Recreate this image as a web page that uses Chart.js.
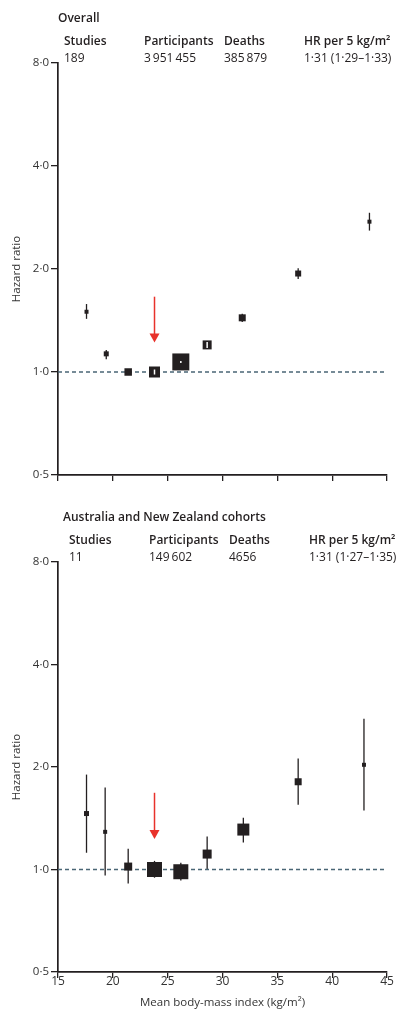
<!DOCTYPE html>
<html>
<head>
<meta charset="utf-8">
<script src="https://cdn.jsdelivr.net/npm/chart.js@4.4.0/dist/chart.umd.min.js"></script>
<style>
    body { margin: 0; background: #fff; font-family: 'Open Sans', sans-serif; color: #231f20; }
    .panel { position: absolute; left: 0; width: 405px; }
    .hdr { position: absolute; font-size: 12px; line-height: 14px; white-space: nowrap; }
    .b { font-weight: 600; }
</style>
</head>
<body>
<div class="panel" style="top:0;height:500px"><canvas id="overallChart"></canvas></div>
<div class="panel" style="top:500px;height:523px"><canvas id="anzChart"></canvas></div>
<div id="headers"></div>

<script>
// ---- data ----
const yTicks = [0.5, 1, 2, 4, 8];
const xTicksStep = 5;
const summaryCols = ['Studies', 'Participants', 'Deaths', 'HR per 5 kg/m²'];

// Overall
const overallBmi = [17.6, 19.4, 21.4, 23.8, 26.2, 28.6, 31.8, 36.9, 43.4];
const overallHr  = [1.50, 1.13, 1.00, 1.00, 1.07, 1.20, 1.44, 1.94, 2.75];
const overallLo  = [1.43, 1.09, 1.00, 0.983, 1.063, 1.176, 1.40, 1.87, 2.59];
const overallHi  = [1.58, 1.16, 1.00, 1.017, 1.077, 1.224, 1.48, 2.01, 2.92];
const overallSummary = ['189', '3\u2009951\u2009455', '385\u2009879', '1·31 (1·29–1·33)'];

// Australia and New Zealand
const anzBmi = [17.6, 19.3, 21.4, 23.8, 26.2, 28.6, 31.9, 36.9, 42.9];
const anzHr  = [1.46, 1.29, 1.02, 1.00, 0.985, 1.11, 1.31, 1.81, 2.03];
const anzLo  = [1.12, 0.96, 0.91, 0.946, 0.929, 1.00, 1.20, 1.55, 1.49];
const anzHi  = [1.90, 1.74, 1.15, 1.06, 1.046, 1.25, 1.42, 2.12, 2.77];
const anzSummary = ['11', '149\u2009602', '4656', '1·31 (1·27–1·35)'];

// reference arrow (BMI, from HR, to HR)
const overallArrow = [23.8, 1.66, 1.22];
const anzArrow = [23.8, 1.68, 1.23];

// box sizes (px side) – style only
const overallBoxPx = [4, 5, 7.5, 11, 17, 9, 7, 6, 4];
const anzBoxPx = [5, 4, 8, 15, 15, 9, 12, 7, 4];

const INK = '#231f20';

function fmt(v) {
    return v.toFixed(1).replace('.', '·');
}

// header text
function addHeader(title, values, top, left) {
    const box = document.getElementById('headers');
    const colX = [0, 80, 160, 240];
    let html = '<div class="hdr b" style="left:' + (left - 6) + 'px;top:' + top + 'px">' + title + '</div>';
    summaryCols.forEach(function(c, i) {
        html += '<div class="hdr b" style="left:' + (left + colX[i]) + 'px;top:' + (top + 23) + 'px">' + c + '</div>';
        html += '<div class="hdr" style="left:' + (left + colX[i]) + 'px;top:' + (top + 40) + 'px">' + values[i] + '</div>';
    });
    box.innerHTML += html;
}
addHeader('Overall', overallSummary, 11, 64);
addHeader('Australia and New Zealand cohorts', anzSummary, 510, 69);

// error bars + arrow
const ciPlugin = {
    id: 'ciBars',
    beforeDatasetsDraw: function(chart, args, opts) {
        const ctx = chart.ctx, xs = chart.scales.x, ys = chart.scales.y;
        ctx.save();
        ctx.strokeStyle = INK;
        ctx.lineWidth = 1.3;
        opts.x.forEach(function(bx, i) {
            const px = xs.getPixelForValue(bx);
            const y1 = ys.getPixelForValue(opts.hi[i]);
            const y2 = ys.getPixelForValue(opts.lo[i]);
            const yc = ys.getPixelForValue(opts.hr[i]);
            const half = opts.size[i] / 2;
            if (y1 < yc - half || y2 > yc + half) {
                ctx.beginPath();
                ctx.moveTo(px, y1);
                ctx.lineTo(px, y2);
                ctx.stroke();
            }
        });
        ctx.restore();
    },
    afterDatasetsDraw: function(chart, args, opts) {
        const ctx = chart.ctx, xs = chart.scales.x, ys = chart.scales.y;
        ctx.save();
        // CI inside the box shows as a white line
        ctx.strokeStyle = '#fff';
        ctx.lineWidth = 1.5;
        opts.x.forEach(function(bx, i) {
            const px = xs.getPixelForValue(bx);
            const y1 = ys.getPixelForValue(opts.hi[i]);
            const y2 = ys.getPixelForValue(opts.lo[i]);
            const yc = ys.getPixelForValue(opts.hr[i]);
            const half = opts.size[i] / 2;
            if (y2 - y1 > 0.5 && y1 >= yc - half && y2 <= yc + half) {
                ctx.beginPath();
                ctx.moveTo(px, y1);
                ctx.lineTo(px, y2);
                ctx.stroke();
            }
        });
        // red arrow
        const ax = xs.getPixelForValue(opts.arrow[0]);
        const aTop = ys.getPixelForValue(opts.arrow[1]);
        const aTip = ys.getPixelForValue(opts.arrow[2]);
        ctx.strokeStyle = '#e8322b';
        ctx.fillStyle = '#e8322b';
        ctx.lineWidth = 1.5;
        ctx.beginPath();
        ctx.moveTo(ax, aTop);
        ctx.lineTo(ax, aTip - 8);
        ctx.stroke();
        ctx.beginPath();
        ctx.moveTo(ax - 5, aTip - 9);
        ctx.lineTo(ax + 5, aTip - 9);
        ctx.lineTo(ax, aTip);
        ctx.closePath();
        ctx.fill();
        ctx.restore();
    }
};

function makeChart(id, bmi, hr, lo, hi, boxPx, arrow, showXLabels, padTop, xHeight) {
    const pts = bmi.map(function(b, i) { return { x: b, y: hr[i] }; });
    new Chart(document.getElementById(id), {
        type: 'scatter',
        data: {
            datasets: [{
                data: pts,
                pointStyle: 'rect',
                pointRadius: boxPx.map(function(s) { return s / (2 * Math.SQRT1_2); }),
                pointBackgroundColor: INK,
                pointBorderWidth: 0,
                pointHoverRadius: boxPx.map(function(s) { return s / (2 * Math.SQRT1_2); })
            }, {
                type: 'line',
                data: [{ x: 15, y: 1 }, { x: 45, y: 1 }],
                borderColor: '#4a6675',
                borderWidth: 1.5,
                borderDash: [4, 3],
                pointRadius: 0
            }]
        },
        options: {
            responsive: true,
            maintainAspectRatio: false,
            animation: false,
            layout: { padding: { top: padTop, right: 18, bottom: 0, left: 0 } },
            plugins: {
                legend: { display: false },
                tooltip: { enabled: false },
                ciBars: { x: bmi, hr: hr, lo: lo, hi: hi, size: boxPx, arrow: arrow }
            },
            scales: {
                x: {
                    type: 'linear',
                    min: 15,
                    max: 45,
                    ticks: {
                        stepSize: xTicksStep,
                        display: showXLabels,
                        padding: -4,
                        color: '#333',
                        font: { family: 'Open Sans', size: 12 }
                    },
                    grid: { drawOnChartArea: false, tickLength: 6, color: INK, lineWidth: 1.3 },
                    border: { color: INK, width: 1.7 },
                    title: {
                        display: showXLabels,
                        text: 'Mean body-mass index (kg/m²)',
                        color: '#333',
                        font: { family: 'Open Sans', size: 11.5 },
                        padding: { top: 0, bottom: 13 }
                    },
                    afterFit: function(scale) { scale.height = xHeight; }
                },
                y: {
                    type: 'logarithmic',
                    min: 0.5,
                    max: 8,
                    afterBuildTicks: function(scale) {
                        scale.ticks = yTicks.map(function(v) { return { value: v }; });
                    },
                    ticks: {
                        callback: function(value) { return fmt(value); },
                        padding: 2,
                        color: '#333',
                        font: { family: 'Open Sans', size: 11.5 }
                    },
                    grid: { drawOnChartArea: false, tickLength: 7, color: INK, lineWidth: 1.3 },
                    border: { color: INK, width: 1.7 },
                    title: {
                        display: true,
                        text: 'Hazard ratio',
                        color: '#333',
                        font: { family: 'Open Sans', size: 11.5 },
                        padding: { top: 10, bottom: 0 }
                    },
                    afterFit: function(scale) { scale.width = 58; }
                }
            }
        },
        plugins: [ciPlugin]
    });
}

makeChart('overallChart', overallBmi, overallHr, overallLo, overallHi, overallBoxPx, overallArrow, false, 63, 25);
makeChart('anzChart', anzBmi, anzHr, anzLo, anzHi, anzBoxPx, anzArrow, true, 62, 51);
</script>
</body>
</html>
